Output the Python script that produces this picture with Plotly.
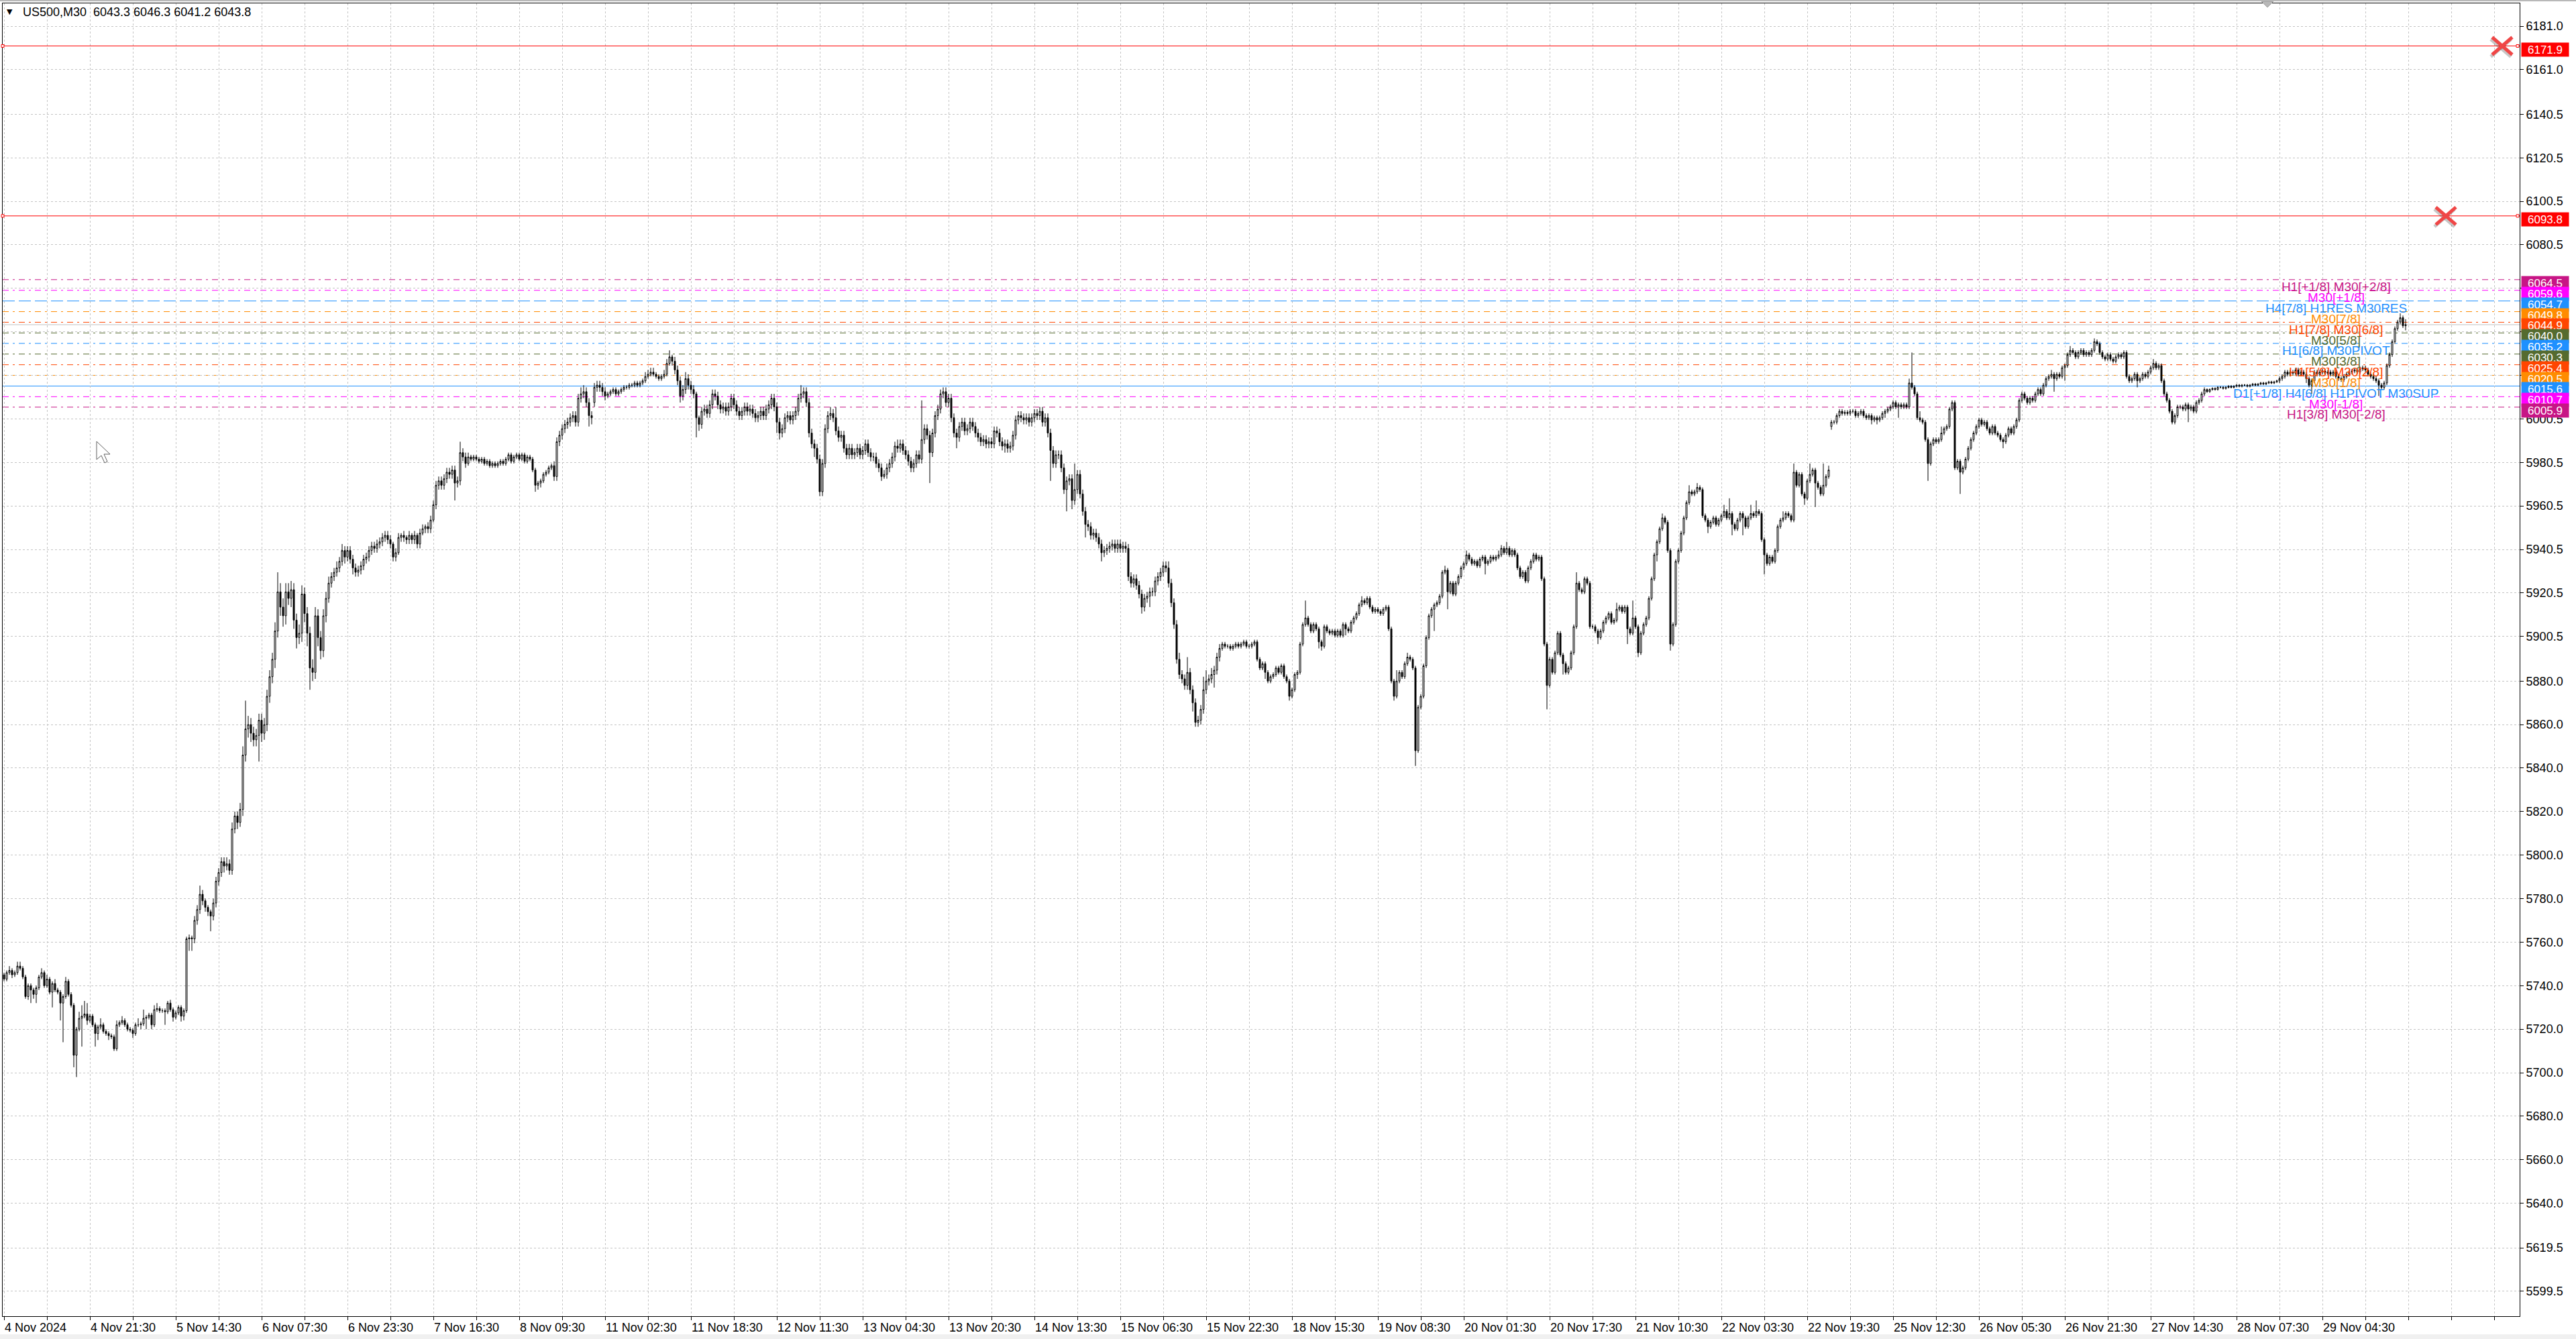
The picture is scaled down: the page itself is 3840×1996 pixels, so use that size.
import plotly.graph_objects as go

# ---------------- data ----------------
symbol = "US500,M30"
first_open = 5745.0
# weekend gap opens (bar index -> open)
gap_opens = {220: 6008.0, 681: 5997.0}

close_px = [
    5743, 5746, 5747, 5745, 5746, 5749, 5748, 5744, 5735, 5740, 5738, 5736, 5739, 5744, 5746, 5740,
    5743, 5737, 5741, 5738, 5737, 5732, 5735, 5742, 5736, 5731, 5708, 5720, 5725, 5726, 5727, 5724,
    5726, 5722, 5718, 5721, 5722, 5719, 5718, 5717, 5716.5, 5711, 5722, 5723, 5724, 5722, 5720, 5719.5,
    5718, 5722, 5722, 5722.5, 5725, 5725.5, 5726.5, 5722, 5729, 5729.5, 5728.5, 5728.5, 5728, 5732, 5729, 5725.5,
    5727.5, 5730, 5726, 5728.5, 5761.5, 5762, 5761.5, 5770, 5775, 5782, 5779, 5776, 5774, 5772, 5778, 5788,
    5792, 5797, 5795, 5796, 5793, 5812, 5818, 5815, 5821, 5846, 5858, 5860, 5856, 5853, 5855, 5862,
    5856, 5860, 5873, 5882, 5890, 5903, 5921, 5914, 5910, 5921, 5918, 5922, 5908, 5900, 5902, 5920,
    5911, 5902, 5886, 5884, 5910, 5900, 5894, 5910, 5918, 5925, 5928, 5930, 5932, 5935, 5940, 5937,
    5940, 5936, 5932, 5930, 5931, 5933, 5936, 5937, 5940, 5942, 5941, 5943, 5944, 5946, 5947, 5945,
    5943, 5937, 5939, 5946, 5947, 5946, 5945, 5947, 5945, 5947, 5943, 5948, 5950, 5951, 5950, 5954,
    5961, 5970, 5972, 5970, 5973, 5976, 5975, 5977, 5971, 5972, 5985, 5983, 5980, 5983, 5982, 5983,
    5982, 5981, 5982, 5980, 5981, 5979, 5980, 5979, 5980, 5981, 5980, 5982, 5984, 5981, 5983, 5984,
    5982, 5984, 5981, 5983, 5982, 5977, 5970, 5971, 5972, 5975, 5976, 5978, 5979, 5974, 5990, 5993,
    5996, 5998, 5999, 6001, 6002, 5999, 6010, 6012, 6013, 6008, 6002, 6001, 6015, 6016, 6015, 6013,
    6011, 6012, 6013, 6014, 6012, 6013, 6014, 6015, 6015, 6016, 6016, 6017, 6016, 6017, 6018, 6020,
    6021, 6022, 6021, 6020, 6019, 6020, 6021, 6026, 6029, 6027, 6023, 6018, 6011, 6014, 6019, 6016,
    6014, 6012, 6001, 5998, 6004, 6005, 6003, 6007, 6012, 6011, 6007, 6005, 6006, 6004, 6006, 6010,
    6007, 6004, 6002, 6004, 6006, 6004, 6005, 6003, 6001, 6002, 6004, 6002, 6005, 6007, 6010, 6006,
    5999, 5994, 5996, 6001, 6002, 6000, 6002, 6004, 6010, 6012, 6013, 6008, 5994, 5989, 5987, 5982,
    5967, 5980, 5996, 6002, 6003, 6001, 5995, 5992, 5993, 5987, 5984, 5987, 5984, 5985, 5987, 5984,
    5986, 5989, 5985, 5983, 5983, 5980, 5978, 5974, 5975, 5978, 5980, 5983, 5988, 5987, 5989, 5986,
    5984, 5981, 5978, 5980, 5984, 5982, 5991, 5996, 5993, 5985, 5994, 6002, 6005, 6012, 6013, 6008,
    6010, 6001, 5994, 5992, 5997, 5999, 5995, 5996, 5999, 5997, 5994, 5992, 5990, 5991, 5989, 5990,
    5989, 5995, 5994, 5990, 5988, 5989, 5987, 5988, 5993, 6000, 6002, 6001, 6000, 6001, 5999, 6001,
    6003, 6002, 6004, 5999, 6001, 5994, 5986, 5980, 5984, 5984, 5978, 5968, 5972, 5973, 5963, 5968,
    5975, 5966, 5958, 5952, 5951, 5947, 5948, 5946, 5943, 5939, 5940, 5941, 5942, 5943, 5941, 5943,
    5941, 5942, 5941, 5928, 5925, 5927, 5924, 5920, 5914, 5918, 5919, 5921, 5921, 5926, 5928, 5930,
    5933, 5932, 5925, 5916, 5906, 5890, 5883, 5881, 5878, 5884, 5876, 5870, 5861, 5862, 5867, 5876,
    5880, 5881, 5883, 5885, 5891, 5895, 5897, 5896, 5896, 5895, 5896, 5897, 5896, 5897, 5898, 5896,
    5896, 5897, 5898, 5890, 5886, 5888, 5884, 5880, 5882, 5883, 5886, 5884, 5887, 5882, 5880, 5873,
    5876, 5883, 5884, 5897, 5906, 5909, 5906, 5903, 5906, 5904, 5898, 5896, 5905, 5903, 5902, 5903,
    5901, 5903, 5901, 5906, 5904, 5903, 5907, 5909, 5911, 5915, 5917, 5916, 5918, 5914, 5912, 5913,
    5912, 5911, 5913, 5914, 5904, 5880, 5873, 5880, 5884, 5882, 5888, 5891, 5890, 5886, 5848, 5868,
    5873, 5887, 5900, 5910, 5913, 5915, 5916, 5919, 5930, 5931, 5921, 5925, 5920, 5925, 5928, 5932,
    5934, 5938, 5936, 5934, 5935, 5933, 5936, 5937, 5934, 5935, 5937, 5936, 5937, 5938, 5941, 5939,
    5941, 5938, 5940, 5938, 5932, 5928, 5930, 5926, 5932, 5935, 5938, 5936, 5937, 5927, 5897, 5878,
    5890, 5884, 5893, 5902, 5892, 5888, 5884, 5886, 5893, 5905, 5925, 5922, 5921, 5927, 5925, 5905,
    5905, 5903, 5900, 5903, 5907, 5909, 5911, 5907, 5908, 5913, 5914, 5912, 5914, 5904, 5902, 5909,
    5905, 5893, 5902, 5906, 5909, 5918, 5927, 5938, 5944, 5950, 5955, 5953, 5940, 5897, 5906, 5935,
    5940, 5948, 5955, 5962, 5967, 5966, 5967, 5969, 5968, 5956, 5954, 5951, 5953, 5955, 5952, 5954,
    5956, 5958, 5955, 5957, 5952, 5950, 5954, 5957, 5955, 5951, 5955, 5957, 5956, 5958, 5957, 5945,
    5938, 5934, 5937, 5935, 5940, 5951, 5954, 5955, 5957, 5956, 5954, 5976, 5970, 5975, 5966, 5964,
    5972, 5975, 5977, 5971, 5969, 5966, 5970, 5974, 5977, 5999, 5999, 6002, 6004, 6003, 6003.5, 6003,
    6004, 6004, 6002, 6003, 6004, 6002, 6001, 6002, 6000, 6001, 6000, 6001, 6003, 6004, 6005, 6006,
    6008, 6006, 6007, 6006, 6007, 6006, 6017, 6015, 6012, 6001, 6000, 5999, 5991, 5980, 5989, 5991,
    5990, 5991, 5994, 5996, 5997, 6005, 6008, 5978, 5981, 5976, 5978, 5982, 5987, 5991, 5994, 5997,
    6000, 5998, 5999, 5996, 5994, 5997, 5994, 5993, 5991, 5990, 5993, 5996, 5994, 5997, 6000, 6009,
    6012, 6010, 6008, 6010, 6009, 6012, 6014, 6012, 6016, 6019, 6020, 6021, 6019, 6021, 6020, 6024,
    6025, 6030, 6032, 6031, 6029, 6031, 6032, 6030, 6031, 6030, 6032, 6036, 6035, 6031, 6029, 6028,
    6030, 6028, 6027, 6029, 6030, 6029, 6031, 6020, 6018, 6019, 6021, 6018, 6019, 6021, 6020, 6022,
    6024, 6026, 6024, 6025, 6018, 6012, 6009, 6004, 5999, 6002, 6006, 6006, 6005, 6007, 6005, 6006,
    6004, 6008, 6009, 6012, 6014, 6013, 6014, 6014.5, 6014, 6015, 6015, 6014.5, 6015, 6015.5, 6015, 6015.5,
    6016, 6015.5, 6016, 6016, 6015.5, 6016, 6016.5, 6016, 6016.5, 6017, 6016.5, 6017, 6017.5, 6017, 6017.5, 6018,
    6019, 6020, 6022, 6021, 6022, 6021.5, 6023, 6021, 6022, 6021, 6019, 6016, 6018, 6022, 6021, 6022,
    6022.5, 6021.5, 6022, 6021, 6022, 6020, 6019, 6018.5, 6020, 6021, 6022, 6022.5, 6023, 6022, 6023.5, 6024,
    6023, 6021, 6020, 6019, 6018, 6016, 6015, 6017, 6025, 6030, 6036, 6042, 6045, 6047, 6043.3, 6043.8,
]

# wick lengths above max(open, close) and below min(open, close), in points
upper_wick = [
    1, 1, 2, 1, 1, 2, 2, 1, 1, 1, 1, 1, 1, 1, 2, 1,
    2, 1, 1, 2, 1, 1, 1, 2, 1, 1, 1, 1, 3, 5, 6, 5,
    1, 1, 1, 1, 3, 1, 1, 1, 1, 1, 2, 1, 2, 1, 1, 1,
    1, 1, 3, 1, 4, 1, 1, 1, 2, 2.5, 1, 1, 1, 1, 1.5, 1,
    1, 1, 1, 1, 1, 1.5, 1, 2, 2, 4, 2, 1, 1, 1, 2, 2,
    2, 2, 2, 3, 2, 3, 2, 2, 3, 4, 13, 4, 3, 3, 3, 3,
    3, 3, 3, 3, 3, 4, 9, 4, 4, 4, 4, 4, 3, 3, 4, 4,
    3, 3, 3, 4, 4, 3, 3, 3, 3, 3, 2, 2, 3, 2, 3, 2,
    2, 2, 2, 2, 2, 2, 2, 2, 2, 2, 2, 2, 2, 2, 2, 2,
    2, 1, 2, 2, 1, 2, 1, 2, 1, 2, 1, 2, 2, 1, 2, 2,
    2, 2, 2, 2, 2, 2, 2, 2, 2, 2, 5, 2, 2, 2, 1, 1,
    1, 1, 1, 1, 1, 1, 1, 1, 1, 1, 1, 1, 1, 1, 1, 1,
    1, 1, 1, 1, 1, 1, 1, 1, 1, 1, 1, 1, 1, 2, 2, 2,
    2, 2, 2, 2, 2, 2, 2, 3, 3, 2, 2, 2, 2, 2, 2, 2,
    2, 1, 1, 1, 1, 1, 1, 1, 1, 1, 1, 1, 1, 1, 1, 2,
    2, 2, 2, 1, 1, 1, 2, 2, 3, 1, 2, 2, 2, 2, 3, 2,
    2, 2, 1, 1, 2, 2, 2, 2, 2, 2, 2, 2, 2, 2, 2, 2,
    2, 2, 2, 2, 2, 2, 2, 2, 2, 2, 2, 2, 2, 2, 2, 2,
    2, 2, 2, 2, 2, 2, 2, 2, 2, 4, 2, 2, 2, 2, 2, 2,
    2, 2, 2, 2, 3, 2, 5, 2, 2, 2, 2, 2, 2, 2, 2, 2,
    2, 2, 2, 2, 2, 2, 2, 2, 2, 2, 2, 2, 2, 3, 2, 2,
    2, 2, 2, 2, 2, 2, 18, 2, 2, 2, 2, 2, 2, 2, 2, 2,
    2, 2, 2, 2, 2, 2, 2, 2, 2, 2, 2, 2, 2, 2, 2, 2,
    2, 2, 2, 2, 2, 2, 2, 2, 2, 2, 2, 2, 2, 2, 2, 2,
    2, 2, 2, 2, 2, 2, 2, 2, 2, 2, 2, 2, 2, 2, 2, 12,
    2, 2, 2, 2, 2, 2, 2, 2, 2, 2, 2, 2, 2, 2, 2, 2,
    2, 2, 2, 2, 2, 2, 2, 2, 2, 2, 2, 2, 2, 2, 2, 2,
    2, 2, 3, 2, 2, 2, 3, 2, 2, 7, 2, 2, 2, 2, 2, 6,
    5, 2, 3, 2, 2, 2, 1, 1, 1, 1, 1, 1, 1, 1, 1, 1,
    1, 1, 1, 1, 1, 1, 1, 1, 1, 1, 1, 1, 1, 1, 1, 1,
    1, 1, 1, 1, 1, 8, 1, 1, 1, 1, 1, 1, 1, 1, 1, 1,
    1, 1, 1, 1, 1, 1, 1, 1, 1, 1, 2, 1, 1, 1, 1, 1,
    1, 1, 1, 1, 1, 1, 1, 5, 1, 1, 1, 2, 1, 1, 1, 1,
    1, 1, 1, 1, 1, 1, 1, 1, 1, 2, 1, 1, 1, 1, 1, 1,
    1, 2, 1, 1, 1, 1, 1, 1, 1, 1, 1, 1, 1, 2, 1.5, 1,
    3, 1, 1, 1, 1, 1, 1, 1, 1, 1, 1, 1, 1, 1, 1, 1,
    1, 1, 1, 1, 1, 1, 1, 1, 1, 1, 5, 1, 1, 1, 1, 1,
    1, 1, 1, 1, 1, 1, 1, 1, 1, 3, 1, 1, 1, 1, 1, 8,
    1, 1, 1, 1, 1, 1, 1, 1, 1, 1, 2, 1, 1, 1, 1, 1,
    1, 1, 1, 1, 3, 1, 1, 2, 1, 1, 1, 1, 1, 1, 1, 1,
    1, 3, 1, 7, 1, 1, 1, 1, 1, 1, 1, 4, 1, 5, 1, 1,
    1, 1, 1, 1, 1, 1, 1, 3, 1, 1, 1, 4, 1, 1, 1, 1,
    1, 5, 1, 1, 1, 1, 10, 1, 2, 1, 1, 1, 1, 1, 1, 1,
    1, 1, 1, 1, 1, 1, 1, 1, 1, 1, 1, 1, 1, 1, 1, 1,
    1, 1, 1, 1, 1, 1, 2, 14, 1, 1, 3, 1, 1, 1, 1, 1,
    1, 1, 3, 1, 1, 1, 1, 1, 1, 1, 1, 1, 1, 1, 1, 1,
    1, 1, 1, 1, 1, 1, 1, 1, 1, 1, 1, 1, 1, 1, 1, 1,
    1, 1, 1, 1, 1, 1, 1, 1, 1, 1, 1, 2, 1, 1, 1, 1,
    1, 1, 2, 1, 1, 1, 1, 1, 1, 1, 1, 1.5, 1, 1, 1, 1,
    1, 1, 1, 1, 1, 1, 1, 1, 1, 1, 1, 1, 1, 1, 1, 1,
    1, 2, 1, 1, 1, 1, 1, 1, 1, 1, 1, 1, 1, 1, 1, 1,
    1, 1, 1, 1, 1, 0.5, 0.5, 0.5, 0.5, 0.5, 0.5, 0.5, 0.5, 0.5, 0.5, 0.5,
    0.5, 0.5, 0.5, 0.5, 0.5, 0.5, 0.5, 0.5, 0.5, 0.5, 0.5, 0.5, 0.5, 0.5, 0.5, 0.5,
    1, 1, 1, 1, 1, 1, 1, 1, 1, 1, 1, 1, 1, 1, 1, 1,
    1, 1, 1, 1, 1, 1, 1, 1, 1, 1, 1, 1, 1, 1, 1, 1,
    1, 1, 1, 1, 1, 1, 1, 1, 1, 1, 1, 1, 1, 2, 1, 2.5,
]

lower_wick = [
    1, 1, 1, 1.5, 1, 1, 1, 1, 1, 1.5, 6, 2, 4, 1, 1, 1,
    1, 1, 7, 1, 1, 8, 18, 1, 1, 1, 5.5, 10, 1, 13, 1, 2,
    1, 1, 6, 3, 1, 1, 1, 2, 1, 1, 1, 1, 1, 1, 1, 1,
    2, 1, 1, 2, 1, 5, 1, 2, 1, 1, 1, 1, 6, 1, 1, 2,
    1, 1, 2.5, 2, 1, 5.5, 5.5, 2, 2, 2, 2, 2, 2, 7, 2, 2,
    2, 2, 3, 2, 2, 2, 2, 3, 2, 3, 3, 4, 4, 3, 3, 12,
    4, 3, 3, 3, 3, 4, 3, 4, 5, 4, 3, 4, 4, 5, 3, 4,
    4, 6, 10, 4, 3, 4, 4, 3, 3, 2, 2, 2, 2, 2, 2, 3,
    2, 2, 3, 2, 2, 2, 2, 2, 2, 2, 2, 2, 2, 2, 2, 2,
    2, 2, 2, 1, 2, 2, 2, 2, 2, 2, 2, 2, 1, 2, 2, 2,
    1, 2, 2, 2, 2, 2, 2, 2, 8, 2, 2, 2, 2, 1, 1, 1,
    1, 1, 1, 1, 1, 1, 1, 1, 1, 1, 1, 1, 1, 1, 1, 1,
    1, 1, 1, 1, 1, 1, 3, 2, 2, 1, 1, 1, 1, 2, 2, 2,
    2, 2, 2, 2, 2, 2, 2, 2, 2, 2, 5, 3, 2, 2, 2, 2,
    2, 1, 1, 1, 1, 1, 1, 1, 1, 1, 1, 1, 1, 1, 1, 1,
    1, 1, 1, 1, 1, 1, 1, 1, 1, 2, 2, 2, 3, 2, 2, 2,
    2, 2, 9, 3, 2, 2, 2, 2, 2, 2, 2, 2, 2, 2, 2, 2,
    2, 2, 2, 2, 2, 2, 2, 2, 2, 2, 2, 2, 2, 2, 2, 2,
    5, 3, 2, 2, 2, 2, 2, 2, 2, 2, 2, 2, 2, 2, 4, 2,
    2, 2, 2, 2, 2, 2, 2, 2, 2, 2, 2, 2, 2, 2, 2, 2,
    2, 2, 2, 2, 2, 2, 2, 2, 1, 2, 2, 2, 2, 2, 2, 2,
    2, 2, 2, 2, 2, 2, 2, 2, 2, 14, 2, 2, 2, 2, 2, 2,
    2, 2, 2, 5, 2, 2, 2, 2, 2, 2, 2, 2, 2, 2, 2, 2,
    2, 2, 2, 2, 2, 3, 2, 2, 2, 2, 2, 2, 2, 2, 2, 2,
    2, 2, 2, 2, 2, 2, 14, 2, 2, 2, 2, 2, 10, 2, 4, 2,
    2, 2, 2, 6, 2, 2, 2, 2, 2, 4, 2, 2, 2, 2, 2, 2,
    2, 2, 2, 2, 2, 2, 2, 2, 3, 2, 2, 5, 2, 2, 2, 2,
    2, 2, 2, 2, 2, 2, 2, 2, 2, 2, 2, 4, 2, 2, 2, 2,
    2, 2, 2, 6, 2, 2, 1, 1, 1, 1, 1, 1, 1, 1, 1, 1,
    1, 1, 1, 1, 1, 1, 3, 1, 1, 1, 1, 1, 1, 1, 1, 2,
    1, 1, 2, 1, 1, 1, 1, 1, 1, 1, 3, 2, 1, 1, 1, 1,
    1, 1, 1, 1, 3, 1, 1, 1, 1, 1, 1, 1, 1, 1, 1, 1,
    1, 1, 1, 1, 1, 1, 2, 1, 1, 1, 1, 1, 1, 1, 7, 1,
    1, 1, 1, 1, 1, 10, 1, 1, 1, 1, 8, 1, 1, 1, 1, 1,
    1, 1, 1, 1, 1, 1, 1, 1, 5, 1, 1, 1, 1, 1, 1, 1,
    1, 1, 1, 1, 1, 1, 1, 1, 1, 1, 1, 1, 1, 1, 1, 11,
    1, 1, 1, 1, 1, 5, 1, 1, 1, 1, 1, 1, 1, 1, 1, 1,
    1, 1, 3, 1, 1, 1, 1, 1, 1, 1, 1, 1, 1, 7, 1, 1,
    1, 2, 1, 1, 1, 1, 1, 1, 3, 1, 1, 1, 1, 3, 1, 1,
    1, 1, 1, 1, 1, 1, 1, 1, 1, 1, 1, 3, 1, 1, 1, 1,
    1, 1, 1, 1, 5, 1, 1, 1, 8, 1, 1, 1, 1, 1, 1, 1,
    9, 1, 1, 1, 1, 1, 1, 1, 1, 1, 1, 1, 1, 1, 1, 3,
    1, 1, 1, 11, 1, 1, 1, 1, 1, 1.5, 1, 1, 1, 1, 1, 1,
    1, 1, 1, 1, 1, 1, 1, 1, 2, 1, 2, 1, 1, 2, 1, 1,
    1, 1, 5, 1, 1, 1, 1, 1, 1, 1, 1, 1, 1, 8, 1, 1,
    1, 1, 1, 1, 1, 1, 1, 1, 1, 10, 1, 1, 1, 1, 1, 1,
    1, 1, 1, 1, 1, 1, 1, 1, 1, 3, 1, 1, 1, 1, 1, 1,
    1, 1, 1, 1, 1, 1, 1, 1, 1, 1, 1, 1, 6, 1, 1, 1,
    6, 1, 1, 1, 1, 1, 1, 1, 1, 1, 1, 1, 1, 1, 1, 1,
    1, 1, 1, 1, 1, 1, 1, 1, 1, 1, 1, 3, 1, 1, 1, 1,
    1, 1, 1, 1, 1, 1, 1, 1, 1, 1, 1, 1, 1, 1, 6, 1,
    1, 1, 1, 1, 1, 0.5, 0.5, 0.5, 0.5, 0.5, 0.5, 0.5, 0.5, 0.5, 0.5, 0.5,
    0.5, 0.5, 0.5, 0.5, 0.5, 0.5, 0.5, 0.5, 0.5, 0.5, 0.5, 0.5, 0.5, 0.5, 0.5, 0.5,
    1, 1, 1, 1, 1, 1, 1, 1, 1, 1, 2, 1, 4, 1, 1, 1,
    1, 1, 1, 1, 1, 1, 1, 1, 1, 1, 1, 1, 1, 1, 1, 1,
    1, 1, 1, 1, 1, 5, 1, 1, 1, 1, 1, 1, 1, 1, 1, 2.1,
]

time_labels = [
    "4 Nov 2024", "4 Nov 21:30", "5 Nov 14:30", "6 Nov 07:30", "6 Nov 23:30",
    "7 Nov 16:30", "8 Nov 09:30", "11 Nov 02:30", "11 Nov 18:30", "12 Nov 11:30",
    "13 Nov 04:30", "13 Nov 20:30", "14 Nov 13:30", "15 Nov 06:30", "15 Nov 22:30",
    "18 Nov 15:30", "19 Nov 08:30", "20 Nov 01:30", "20 Nov 17:30", "21 Nov 10:30",
    "22 Nov 03:30", "22 Nov 19:30", "25 Nov 12:30", "26 Nov 05:30", "26 Nov 21:30",
    "27 Nov 14:30", "28 Nov 07:30", "29 Nov 04:30",
]
bars_per_label = 32
bars_per_grid = 16

price_ticks = [6181.0, 6161.0, 6140.5, 6120.5, 6100.5, 6080.5, 6060.5, 6040.5, 6020.5, 6000.5,
               5980.5, 5960.5, 5940.5, 5920.5, 5900.5, 5880.0, 5860.0, 5840.0, 5820.0, 5800.0,
               5780.0, 5760.0, 5740.0, 5720.0, 5700.0, 5680.0, 5660.0, 5640.0, 5619.5, 5599.5]
# tick labels that sit completely behind the level price boxes
hidden_ticks = [6060.5, 6040.5, 6020.5]

murrey_prices = [6064.5, 6059.6, 6054.7, 6049.8, 6044.9, 6040.0, 6035.2,
                 6030.3, 6025.4, 6020.5, 6015.6, 6010.7, 6005.9]
murrey_texts = ["H1[+1/8] M30[+2/8]", "M30[+1/8]", "H4[7/8] H1RES M30RES", "M30[7/8]",
                "H1[7/8] M30[6/8]", "M30[5/8]", "H1[6/8] M30PIVOT", "M30[3/8]",
                "H1[5/8] M30[2/8]", "M30[1/8]", "D1[+1/8] H4[6/8] H1PIVOT M30SUP",
                "M30[-1/8]", "H1[3/8] M30[-2/8]"]
murrey_colors = ["#C71585", "#FF00FF", "#1E90FF", "#FF8C00", "#FF4500", "#556B2F", "#1E90FF",
                 "#556B2F", "#FF4500", "#FF8C00", "#1E90FF", "#FF00FF", "#C71585"]
murrey_styles = ["dashdot", "dashdot", "dash", "dashdot", "dashdot", "dashdot", "dashdot",
                 "dashdot", "dashdot", "dashdot", "solid", "dashdot", "dashdot"]

red_levels = [6171.9, 6093.8]

# ---------------- derived OHLC ----------------
n = len(close_px)
bar_idx = list(range(n))
open_px = [first_open] + close_px[:-1]
for k, v in gap_opens.items():
    open_px[k] = v
high_px = [max(o, c) + u for o, c, u in zip(open_px, close_px, upper_wick)]
low_px = [min(o, c) - d for o, c, d in zip(open_px, close_px, lower_wick)]

# ---------------- geometry / style ----------------
W, H = 3840, 1996
PL, PR, PT, PB = 4, 3756, 5, 1962          # plot area in page pixels
BAR_PX = 4
n_slots = (PR - PL) // BAR_PX
x_range = [-0.5, n_slots - 0.5]
PX_PER_PT = 3.2433
y_top = 6181.0 + (39 - PT) / PX_PER_PT
y_bot = 6181.0 - (PB - 39) / PX_PER_PT


def xp(px):
    return (px - PL) / (PR - PL)


def yp(py):
    return (PB - py) / (PB - PT)


FONT = "Liberation Sans, Arial, sans-serif"
DASH = {"dashdot": "9px,6px,3px,6px", "dash": "18px,6px", "solid": "solid"}

fig = go.Figure()
fig.add_trace(go.Candlestick(
    x=bar_idx, open=open_px, high=high_px, low=low_px, close=close_px,
    increasing=dict(line=dict(color="black", width=1), fillcolor="white"),
    decreasing=dict(line=dict(color="black", width=1), fillcolor="black"),
    whiskerwidth=0, showlegend=False, hoverinfo="skip",
))

shapes = []
annotations = []

# top window strip and chart-shift marker
shapes.append(dict(type="rect", xref="paper", yref="paper", x0=xp(0), x1=xp(W),
                   y0=yp(2), y1=yp(0), line=dict(width=0), fillcolor="#B8B8B8", layer="above"))
shapes.append(dict(type="path", xref="paper", yref="paper", xsizemode="pixel", ysizemode="pixel",
                   xanchor=xp(3380), yanchor=yp(2), path="M -9,0 L 9,0 L 0,-9 Z",
                   line=dict(color="#A0A0A0", width=1), fillcolor="#B8B8B8", layer="above"))

# Murrey level lines
for p, col, st in zip(murrey_prices, murrey_colors, murrey_styles):
    shapes.append(dict(type="line", xref="paper", x0=0, x1=1, yref="y", y0=p, y1=p,
                       line=dict(color=col, width=1, dash=DASH[st]), layer="between"))
# bid line
bid = close_px[-1]
shapes.append(dict(type="line", xref="paper", x0=0, x1=1, yref="y", y0=bid, y1=bid,
                   line=dict(color="#C0C0C0", width=1), layer="between"))
# red horizontal lines with end squares
for p in red_levels:
    shapes.append(dict(type="line", xref="paper", x0=0, x1=1, yref="y", y0=p, y1=p,
                       line=dict(color="#FF0000", width=1), layer="above"))
    for xa in (0.0, xp(3753)):
        shapes.append(dict(type="rect", xref="paper", yref="y", xsizemode="pixel",
                           ysizemode="pixel", xanchor=xa, yanchor=p, x0=-2, x1=2, y0=-2, y1=2,
                           line=dict(color="#FF0000", width=1), fillcolor="white", layer="above"))

# red "X" markers
for p, cx in zip(red_levels, (3730, 3646)):
    for dx, dy, col in ((-2, -3, "rgba(0,0,0,0.22)"), (0, 0, "#F04646")):
        for sgn in (1, -1):
            shapes.append(dict(type="line", xref="paper", yref="y", xsizemode="pixel",
                               ysizemode="pixel", xanchor=xp(cx), yanchor=p,
                               x0=-15 + dx, x1=15 + dx, y0=-13 * sgn + dy, y1=13 * sgn + dy,
                               line=dict(color=col, width=5), layer="above"))

# mouse pointer left on the chart
shapes.append(dict(type="path", xref="paper", yref="paper", xsizemode="pixel", ysizemode="pixel",
                   xanchor=xp(144), yanchor=yp(658),
                   path="M 0,0 L 0,-27 L 7,-21 L 12,-32 L 16,-30 L 11,-19 L 20,-19 Z",
                   line=dict(color="#606060", width=1), fillcolor="white", layer="above"))

# level text labels in the chart
for p, txt, col in zip(murrey_prices, murrey_texts, murrey_colors):
    annotations.append(dict(xref="paper", x=xp(3482), yref="y", y=p, yshift=-11,
                            xanchor="center", yanchor="middle", text=txt, showarrow=False,
                            font=dict(family=FONT, size=19, color=col)))

# price boxes on the right axis
box_prices = red_levels + murrey_prices
box_colors = ["#FF0000", "#FF0000"] + murrey_colors
for p, col in zip(box_prices, box_colors):
    annotations.append(dict(xref="paper", x=xp(3758), yref="y", y=p, yshift=-5,
                            xanchor="left", yanchor="middle", text=f"{p:.1f}",
                            showarrow=False, bgcolor=col, width=70, height=20, borderpad=0,
                            align="center", font=dict(family=FONT, size=17, color="white")))

# header
o_last, h_last, l_last, c_last = open_px[-1], high_px[-1], low_px[-1], close_px[-1]
annotations.append(dict(xref="paper", yref="paper", x=xp(8), y=yp(18), xanchor="left",
                        yanchor="middle", text="▼", showarrow=False,
                        font=dict(family="DejaVu Sans", size=11, color="black")))
annotations.append(dict(xref="paper", yref="paper", x=xp(32), y=yp(18), xanchor="left",
                        yanchor="middle",
                        text=f"{symbol}  {o_last:.1f} {h_last:.1f} {l_last:.1f} {c_last:.1f}",
                        showarrow=False, font=dict(family=FONT, size=18, color="black")))

# light bottom strip
shapes.append(dict(type="rect", xref="paper", yref="paper", x0=xp(0), x1=xp(W),
                   y0=yp(H), y1=yp(1989), line=dict(width=0), fillcolor="#F0F0F0", layer="above"))

x_tickvals = list(range(0, n_slots, bars_per_grid))
x_ticktext = []
for v in x_tickvals:
    k = v // bars_per_label
    if v % bars_per_label == 0 and k < len(time_labels):
        x_ticktext.append(time_labels[k])
    else:
        x_ticktext.append("")

y_ticktext = ["" if v in hidden_ticks else f"{v:.1f}" for v in price_ticks]

fig.update_layout(
    width=W, height=H,
    margin=dict(l=PL, r=W - PR, t=PT, b=H - PB, pad=0),
    paper_bgcolor="white", plot_bgcolor="white",
    showlegend=False,
    font=dict(family=FONT, size=18, color="black"),
    shapes=shapes, annotations=annotations,
    xaxis=dict(
        range=x_range, tickmode="array", tickvals=x_tickvals, ticktext=x_ticktext,
        ticklabelposition="outside right", ticks="outside", ticklen=5, tickcolor="black",
        showgrid=True, gridcolor="#C4C4C4", griddash="3px,3px", gridwidth=1,
        showline=True, linecolor="black", linewidth=1, mirror=True, zeroline=False,
        rangeslider=dict(visible=False), automargin=False,
        tickfont=dict(family=FONT, size=18, color="black"), fixedrange=True,
    ),
    yaxis=dict(
        side="right", range=[y_bot, y_top], tickmode="array", tickvals=price_ticks,
        ticktext=y_ticktext, ticks="outside", ticklen=5,
        tickcolor="black", showgrid=True, gridcolor="#C4C4C4", griddash="3px,3px",
        gridwidth=1, showline=True, linecolor="black", linewidth=1, mirror=True,
        zeroline=False, automargin=False,
        tickfont=dict(family=FONT, size=18, color="black"), fixedrange=True,
    ),
)

fig.write_html("out.html", config={"displayModeBar": False},
               post_script="document.body.style.margin='0';document.body.style.overflow='hidden';")
